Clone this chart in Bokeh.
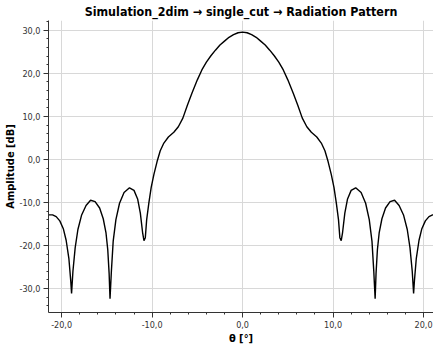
from bokeh.plotting import figure
from bokeh.models import FixedTicker, Range1d
from bokeh.embed import file_html
from bokeh.resources import INLINE

theta = [-21.4, -21.0, -20.6, -20.2, -19.8, -19.5, -19.2, -19.0, -18.9, -18.75, -18.5, -18.2, -17.8, -17.3,
         -16.8, -16.3, -15.8, -15.4, -15.1, -14.9, -14.75, -14.65, -14.5, -14.3, -14.0, -13.6, -13.1,
         -12.5, -12.0, -11.6, -11.3, -11.05, -10.9, -10.75, -10.6, -10.35, -10.1, -9.8, -9.45, -9.1,
         -8.7, -8.2, -7.6, -7.1, -6.6, -6.1, -5.6, -5.0, -4.5, -4.0, -3.5, -3.0, -2.5, -2.0, -1.5,
         -1.0, -0.5, 0.0, 0.5, 1.0, 1.5, 2.0, 2.5, 3.0, 3.5, 4.0, 4.5, 5.0, 5.6, 6.1, 6.6, 7.1, 7.6,
         8.2, 8.7, 9.1, 9.45, 9.8, 10.1, 10.35, 10.6, 10.75, 10.9, 11.05, 11.3, 11.6, 12.0, 12.5,
         13.1, 13.6, 14.0, 14.3, 14.5, 14.65, 14.75, 14.9, 15.1, 15.4, 15.8, 16.3, 16.8, 17.3, 17.8,
         18.2, 18.5, 18.75, 18.9, 19.0, 19.2, 19.5, 19.8, 20.2, 20.6, 21.0, 21.4]
amplitude = [-12.9, -12.9, -13.3, -14.3, -16.2, -18.8, -23.0, -28.0, -31.2, -26.0, -20.5, -16.3, -13.0, -10.7,
             -9.5, -9.8, -11.3, -13.8, -17.0, -21.0, -26.5, -32.4, -26.0, -19.0, -14.0, -10.2, -7.7,
             -6.6, -7.2, -9.2, -12.5, -17.0, -18.9, -18.2, -14.0, -10.0, -6.5, -3.5, -0.5, 2.0,
             3.8, 5.2, 6.3, 7.6, 9.6, 12.6, 15.4, 18.5, 20.8, 22.6, 24.1, 25.4, 26.6, 27.5, 28.4,
             29.0, 29.45, 29.6, 29.45, 29.0, 28.4, 27.5, 26.6, 25.4, 24.1, 22.6, 20.8, 18.5, 15.4, 12.6, 9.6, 7.6, 6.3,
             5.2, 3.8, 2.0, -0.5, -3.5, -6.5, -10.0, -14.0, -18.2, -18.9, -17.0, -12.5, -9.2, -7.2, -6.6,
             -7.7, -10.2, -14.0, -19.0, -26.0, -32.4, -26.5, -21.0, -17.0, -13.8, -11.3, -9.8, -9.5, -10.7, -13.0,
             -16.3, -20.5, -26.0, -31.2, -28.0, -23.0, -18.8, -16.2, -14.3, -13.3, -12.9, -12.9]

x_ticks = [-20, -10, 0, 10, 20]
x_tick_labels = ["-20,0", "-10,0", "0,0", "10,0", "20,0"]
y_ticks = [-30, -20, -10, 0, 10, 20, 30]
y_tick_labels = ["-30,0", "-20,0", "-10,0", "0,0", "10,0", "20,0", "30,0"]

title = "Simulation_2dim \u2192 single_cut \u2192 Radiation Pattern"
x_label = "\u03b8 [\u00b0]"
y_label = "Amplitude [dB]"

FONT = "'DejaVu Sans Condensed', 'DejaVu Sans'"

p = figure(width=433, height=347, output_backend="svg", toolbar_location=None,
           x_range=Range1d(-21.45, 21.1), y_range=Range1d(-35.6, 32.3),
           title=title, min_border_left=48, min_border_right=0,
           min_border_top=0, min_border_bottom=0)

p.line(theta, amplitude, line_color="black", line_width=1.4)

p.title.text_font = FONT
p.title.text_font_size = "12.4px"
p.title.text_font_style = "bold"
p.title.align = "center"
p.title.text_color = "black"
p.title.standoff = 3

p.outline_line_color = None
p.background_fill_color = "white"
p.border_fill_color = "white"

for ax, ticks, labels in ((p.xaxis[0], x_ticks, x_tick_labels), (p.yaxis[0], y_ticks, y_tick_labels)):
    ax.ticker = FixedTicker(ticks=ticks, minor_ticks=[t + d for t in ticks + [ticks[0] - 10] for d in (2, 4, 6, 8)])
    ax.major_label_overrides = {t: l for t, l in zip(ticks, labels)}
    ax.major_label_text_font = FONT
    ax.major_label_text_font_size = "9px"
    ax.major_label_text_color = "#333333"
    ax.axis_label_text_font = FONT
    ax.axis_label_text_font_size = "11px"
    ax.axis_label_text_font_style = "bold"
    ax.axis_label_text_color = "black"
    ax.axis_line_color = "#333333"
    ax.major_tick_line_color = "#333333"
    ax.minor_tick_line_color = "#333333"
    ax.major_tick_out = 5
    ax.major_tick_in = 0
    ax.minor_tick_out = 2
    ax.minor_tick_in = 0

p.xaxis.axis_label_standoff = 1
p.xaxis.major_label_standoff = 3
p.yaxis.axis_label_standoff = 0
p.yaxis.major_label_standoff = 3

p.xaxis.axis_label = x_label
p.yaxis.axis_label = y_label

p.xgrid.grid_line_color = "#d8d8d8"
p.ygrid.grid_line_color = "#d8d8d8"
p.xgrid.ticker = FixedTicker(ticks=x_ticks)
p.ygrid.ticker = FixedTicker(ticks=y_ticks)

open("out.html", "w").write(file_html(p, INLINE))
